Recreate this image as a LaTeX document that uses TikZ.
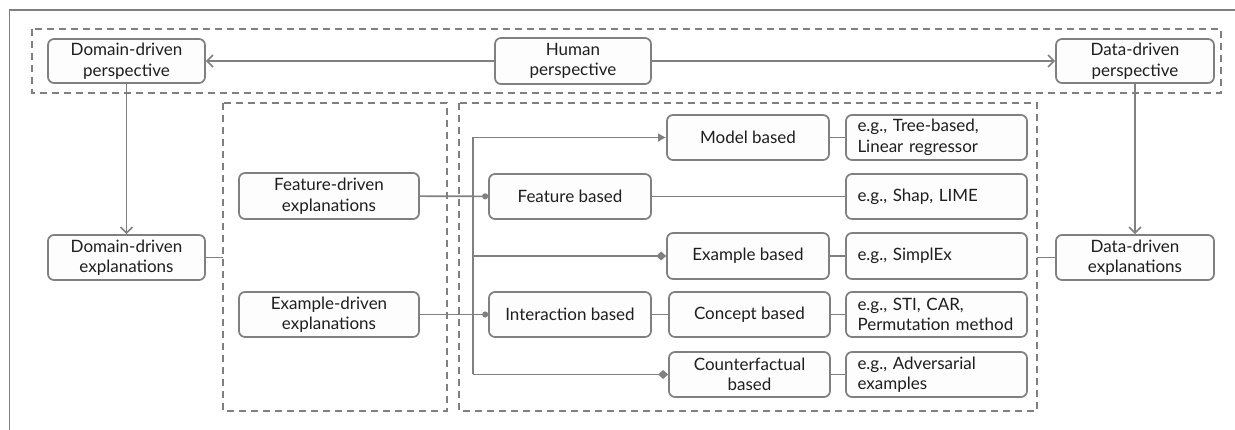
\documentclass[tikz,border=0pt]{standalone}
\usepackage{fontspec}
\setmainfont{Lato}
\usetikzlibrary{arrows.meta}
\definecolor{lc}{HTML}{808080}
\definecolor{tc}{HTML}{1E1E1E}
\definecolor{bf}{HTML}{FDFDFD}
\tikzset{
  box/.style={draw=lc, line width=1.7pt, rounded corners=6pt, fill=bf, text=tc,
    inner sep=0pt, align=center, font=\fontsize{17}{20.5}\selectfont},
  egbox/.style={box, minimum width=181pt, minimum height=45pt, text width=158pt, align=left},
  conn/.style={draw=lc, line width=1.6pt},
  dbox/.style={draw=lc, line width=1.6pt, dash pattern=on 7pt off 5pt},
  barb/.style={-{Straight Barb[length=6pt,width=12pt,line width=1.6pt]}},
}
\begin{document}
\begin{tikzpicture}[x=1pt,y=-1pt]
\useasboundingbox (0,0) rectangle (1235,430);
\fill[white] (0,0) rectangle (1235,430);
% outer frame
\draw[conn] (9.5,440) -- (9.5,10) -- (1245,10);
% dashed groups
\draw[dbox] (32,29) rectangle (1221,93);
\draw[dbox] (223,103) rectangle (447,411);
\draw[dbox] (459,103) rectangle (1037,411);
% top row
\node[box, minimum width=157pt, minimum height=44pt] (dp) at (126.5,61) {Domain-driven\\perspective};
\node[box, minimum width=156pt, minimum height=46pt] (hp) at (573,61) {Human\\perspective};
\node[box, minimum width=158pt, minimum height=44pt] (ddp) at (1135,61) {Data-driven\\perspective};
% explanations
\node[box, minimum width=157pt, minimum height=45pt] (de) at (126.5,257.5) {Domain-driven\\explanations};
\node[box, minimum width=158pt, minimum height=45pt] (dte) at (1135,257.5) {Data-driven\\explanations};
\node[box, minimum width=180pt, minimum height=46pt] (fe) at (329,196) {Feature-driven\\explanations};
\node[box, minimum width=180pt, minimum height=45pt] (ee) at (329,314.5) {Example-driven\\explanations};
% methods
\node[box, minimum width=162pt, minimum height=45pt] (fb) at (570,196.5) {Feature based};
\node[box, minimum width=162pt, minimum height=45pt] (ib) at (570,314.5) {Interaction based};
\node[box, minimum width=162pt, minimum height=45pt] (mb) at (748,137.5) {Model based};
\node[box, minimum width=162pt, minimum height=46pt] (xb) at (748,256) {Example based};
\node[box, minimum width=161pt, minimum height=45pt] (cb) at (749.5,314.5) {Concept based};
\node[box, minimum width=161pt, minimum height=45pt] (cfb) at (749.5,374.5) {Counterfactual\\based};
% examples
\node[egbox] (e1) at (936.5,137.5) {e.g., Tree-based,\\Linear regressor};
\node[egbox] (e2) at (936.5,196.5) {e.g., Shap, LIME};
\node[egbox, minimum height=46pt] (e3) at (936.5,256) {e.g., SimplEx};
\node[egbox] (e4) at (936.5,314.5) {e.g., STI, CAR,\\Permutation method};
\node[egbox] (e5) at (936.5,374.5) {e.g., Adversarial\\examples};
% coordinates
\coordinate (tt) at (473,137.5);
\coordinate (tb) at (473,374.5);
\coordinate (tx) at (473,256);
\coordinate (lw) at (223,257.5);
\coordinate (re) at (1037,257.5);
% connectors
\draw[conn, barb] (hp) -- (dp);
\draw[conn, barb] (hp) -- (ddp);
\draw[conn, barb] (dp) -- (de);
\draw[conn, barb] (ddp) -- (dte);
\draw[conn] (de) -- (lw);
\draw[conn] (dte) -- (re);
\draw[conn] (tb) -- (tt);
\draw[conn, -{Latex[length=8pt,width=9pt]}] (tt) -- (mb);
\draw[conn, -{Diamond[length=10pt,width=9pt]}] (tx) -- (xb);
\draw[conn, -{Diamond[length=10pt,width=9pt]}] (tb) -- (cfb);
\draw[conn, -{Circle[length=6pt]}] (fe) -- (fb);
\draw[conn, -{Circle[length=6pt]}] (ee) -- (ib);
\draw[conn] (mb) -- (e1);
\draw[conn] (fb) -- (e2);
\draw[conn] (xb) -- (e3);
\draw[conn] (ib) -- (cb);
\draw[conn] (cb) -- (e4);
\draw[conn] (cfb) -- (e5);
\end{tikzpicture}
\end{document}
